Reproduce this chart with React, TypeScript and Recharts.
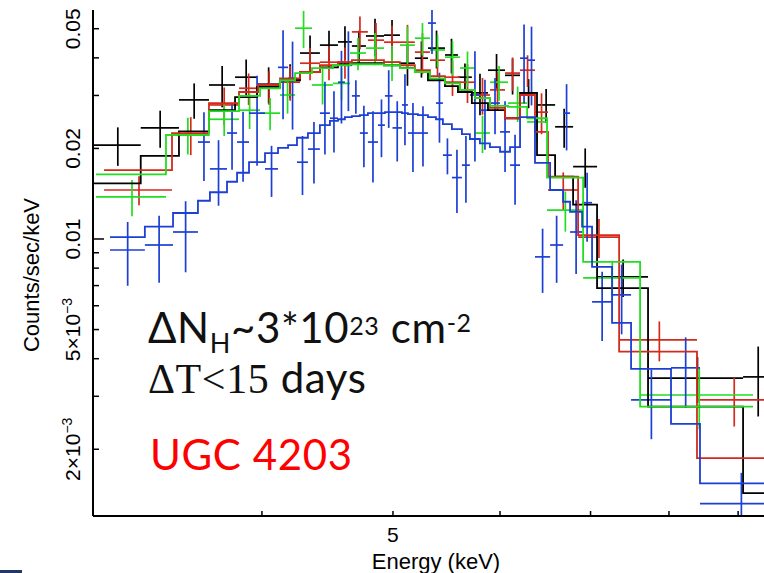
import React from 'react';
import { ComposedChart, Line, Scatter, ErrorBar, XAxis, YAxis } from 'recharts';

// Four observations of UGC 4203, grouped spectra.
// Edges in keV, rates and 1-sigma errors in counts/s/keV, folded model per bin.
const blackEdges = [3.005, 3.254, 3.473, 3.655, 3.821, 3.967, 4.125, 4.268, 4.415, 4.553, 4.662, 4.775, 4.924, 5.06, 5.19, 5.307, 5.463, 5.585, 5.719, 5.878, 6.051, 6.208, 6.39, 6.59, 6.795, 7.078, 7.72, 9.076, 9.55];
const blackRate = [0.0205, 0.0234, 0.029, 0.0325, 0.0345, 0.0327, 0.0337, 0.0415, 0.0441, 0.0452, 0.0438, 0.0473, 0.0476, 0.0384, 0.0399, 0.0431, 0.0409, 0.0345, 0.0306, 0.0364, 0.035, 0.0306, 0.0279, 0.0236, 0.0174, 0.00748, 0.00345, 0.00348];
const blackErr = [0.003, 0.0033, 0.0039, 0.0051, 0.005, 0.0045, 0.0044, 0.006, 0.0051, 0.0058, 0.0054, 0.0067, 0.0058, 0.0061, 0.0055, 0.0062, 0.0054, 0.0038, 0.0048, 0.0048, 0.0048, 0.0034, 0.0036, 0.0035, 0.0026, 0.00107, 0.0006, 0.00091];
const blackModel = [0.0153, 0.0189, 0.0228, 0.0268, 0.0296, 0.032, 0.0337, 0.0359, 0.0372, 0.0381, 0.0384, 0.0384, 0.0378, 0.037, 0.0359, 0.0337, 0.0322, 0.0308, 0.0283, 0.0268, 0.0252, 0.0306, 0.019, 0.0161, 0.013, 0.00687, 0.00277, 0.00143];

const redEdges = [3.057, 3.432, 3.655, 3.847, 3.974, 4.125, 4.268, 4.415, 4.553, 4.662, 4.791, 4.924, 5.06, 5.19, 5.325, 5.463, 5.604, 5.749, 5.898, 6.051, 6.208, 6.368, 6.511, 6.853, 7.349, 8.391, 9.49];
const redRate = [0.01455, 0.0222, 0.0279, 0.0317, 0.032, 0.0332, 0.0384, 0.0387, 0.0387, 0.0488, 0.0458, 0.0451, 0.0451, 0.0418, 0.0393, 0.0345, 0.0332, 0.0301, 0.0313, 0.0356, 0.0364, 0.0264, 0.01455, 0.01015, 0.00462, 0.00292];
const redErr = [0.0016, 0.0032, 0.004, 0.0038, 0.0041, 0.0044, 0.0047, 0.005, 0.0046, 0.0061, 0.0064, 0.006, 0.0064, 0.0065, 0.0045, 0.0046, 0.0049, 0.0042, 0.0045, 0.0045, 0.0044, 0.0041, 0.0021, 0.0015, 0.0007, 0.00054];
const redModel = [0.01695, 0.0225, 0.0283, 0.0308, 0.0325, 0.0342, 0.0359, 0.0378, 0.0387, 0.0393, 0.0393, 0.0387, 0.0378, 0.0364, 0.0348, 0.0332, 0.0313, 0.0294, 0.0273, 0.0252, 0.0301, 0.0227, 0.0161, 0.0103, 0.00422, 0.00187];

const greenEdges = [3.015, 3.397, 3.655, 3.847, 3.987, 4.125, 4.232, 4.356, 4.514, 4.647, 4.775, 4.924, 5.06, 5.19, 5.325, 5.463, 5.604, 5.749, 5.898, 6.082, 6.283, 6.5, 6.912, 7.616, 9.232];
const greenRate = [0.0138, 0.0222, 0.025, 0.0268, 0.0262, 0.0301, 0.0502, 0.0325, 0.0329, 0.0415, 0.0431, 0.0387, 0.0441, 0.0465, 0.0425, 0.0402, 0.037, 0.0225, 0.0332, 0.0283, 0.0245, 0.01248, 0.00743, 0.00303];
const greenErr = [0.0019, 0.0031, 0.003, 0.0036, 0.0032, 0.004, 0.0071, 0.0045, 0.004, 0.0051, 0.0053, 0.0052, 0.0068, 0.0057, 0.0053, 0.0053, 0.005, 0.0032, 0.0044, 0.0038, 0.0033, 0.0019, 0.001, 0.0007];
const greenModel = [0.0164, 0.0222, 0.0266, 0.0299, 0.0317, 0.0337, 0.0356, 0.037, 0.0378, 0.0381, 0.0381, 0.0378, 0.037, 0.0359, 0.0342, 0.0329, 0.0313, 0.0294, 0.0277, 0.0275, 0.0252, 0.016, 0.00839, 0.00277];

const blueEdges = [3.088, 3.277, 3.438, 3.587, 3.661, 3.769, 3.834, 3.913, 4.021, 4.111, 4.182, 4.246, 4.326, 4.415, 4.491, 4.553, 4.607, 4.662, 4.726, 4.791, 4.874, 4.932, 4.996, 5.077, 5.129, 5.217, 5.307, 5.38, 5.444, 5.528, 5.623, 5.7, 5.798, 5.898, 6.0, 6.103, 6.208, 6.293, 6.368, 6.534, 6.68, 6.76, 6.9, 7.018, 7.261, 7.5, 8.028, 8.434, 9.666];
const blueRate = [0.00919, 0.00955, 0.01055, 0.021, 0.0171, 0.0225, 0.021, 0.0262, 0.0171, 0.0372, 0.0342, 0.018, 0.0199, 0.0262, 0.0252, 0.0332, 0.0378, 0.0299, 0.0225, 0.021, 0.0239, 0.0299, 0.0234, 0.0279, 0.0225, 0.0225, 0.0522, 0.0283, 0.019, 0.016, 0.0176, 0.0301, 0.0268, 0.0283, 0.0227, 0.0176, 0.0399, 0.0393, 0.00872, 0.00955, 0.0262, 0.01055, 0.0132, 0.00618, 0.00652, 0.00292, 0.00373, 0.00132];
const blueErr = [0.0022, 0.0024, 0.0028, 0.0054, 0.0042, 0.0055, 0.0055, 0.0087, 0.0033, 0.0122, 0.0111, 0.004, 0.0046, 0.0071, 0.0058, 0.009, 0.0112, 0.0038, 0.0052, 0.0056, 0.0052, 0.0065, 0.0053, 0.0074, 0.0058, 0.0051, 0.011, 0.0074, 0.0026, 0.0038, 0.0044, 0.012, 0.007, 0.006, 0.006, 0.0046, 0.0117, 0.0115, 0.0021, 0.0024, 0.0065, 0.0029, 0.0034, 0.0016, 0.0017, 0.00076, 0.00098, 0.00035];
const blueModel = [0.01015, 0.011, 0.0122, 0.0134, 0.0143, 0.0155, 0.0166, 0.018, 0.0193, 0.0201, 0.0205, 0.0217, 0.0225, 0.0239, 0.0247, 0.025, 0.0254, 0.0256, 0.0258, 0.0262, 0.0262, 0.0264, 0.0264, 0.0262, 0.026, 0.0258, 0.0254, 0.025, 0.0241, 0.0232, 0.0223, 0.0215, 0.0208, 0.0202, 0.0195, 0.0202, 0.0254, 0.0254, 0.0179, 0.01455, 0.0133, 0.0123, 0.011, 0.00808, 0.00526, 0.0037, 0.00243, 0.00154];

const energyDomain = [3, 10];
const energyTicks = [4, 5, 6, 7, 8, 9];
const rateDomain = [0.0012, 0.0577];
const rateTicks = [0.002, 0.003, 0.004, 0.005, 0.006, 0.007, 0.008, 0.009, 0.01, 0.02, 0.03, 0.04, 0.05];
const rateLabels: Record<string, [string, string]> = {
  '0.002': ['2×10', '−3'],
  '0.005': ['5×10', '−3'],
  '0.01': ['0.01', ''],
  '0.02': ['0.02', ''],
  '0.05': ['0.05', ''],
};

const CHART_W = 810;
const CHART_H = 573;
const MARGIN = { top: 10, right: 10, bottom: 0, left: 0 };
const Y_AXIS_W = 93;
const X_AXIS_H = 57;

const AXIS_FONT = '"Liberation Sans", Arial, sans-serif';
const NOTE_FONT = 'Lato, "Open Sans", sans-serif';
const axisLine = { stroke: '#000', strokeWidth: 2 };

const crosses = (edges: number[], rate: number[], err: number[]) =>
  rate.map((v, i) => {
    const lo = edges[i];
    const hi = edges[i + 1];
    const e = (lo + hi) / 2;
    return { e, v, xErr: [e - lo, hi - e], yErr: err[i] };
  });

// stepAfter wants the closing edge repeated with the last bin's value
const steps = (edges: number[], model: number[]) =>
  edges.map((e, i) => ({ e, v: model[Math.min(i, model.length - 1)] }));

const spectra = [
  { id: 'black', color: '#000000', points: crosses(blackEdges, blackRate, blackErr), model: steps(blackEdges, blackModel) },
  { id: 'red', color: '#d42a1c', points: crosses(redEdges, redRate, redErr), model: steps(redEdges, redModel) },
  { id: 'green', color: '#22dd22', points: crosses(greenEdges, greenRate, greenErr), model: steps(greenEdges, greenModel) },
  { id: 'blue', color: '#1c3fd4', points: crosses(blueEdges, blueRate, blueErr), model: steps(blueEdges, blueModel) },
];

const noMarker = () => <g />;

const EnergyTick = ({ x, y, payload, side }: any) => {
  const dir = side === 'top' ? 1 : -1;
  return (
    <g>
      <line x1={x} x2={x} y1={y} y2={y + dir * 5} stroke="#000" strokeWidth={1.5} />
      {side === 'bottom' && payload.value === 5 && (
        <text x={x} y={y + 26} textAnchor="middle" fontSize={21} fontFamily={AXIS_FONT} fill="#000">
          5
        </text>
      )}
    </g>
  );
};

const RateTick = ({ x, y, payload }: any) => {
  const label = rateLabels[String(payload.value)];
  const len = payload.value === 0.01 ? 11 : 6;
  return (
    <g>
      <line x1={x} x2={x + len} y1={y} y2={y} stroke="#000" strokeWidth={1.5} />
      {label && (
        <text
          transform={`translate(${x - 13},${y}) rotate(-90)`}
          textAnchor="middle"
          fontSize={21}
          fontFamily={AXIS_FONT}
          fill="#000"
        >
          {label[0]}
          {label[1] && (
            <tspan dy={-8} fontSize={14}>
              {label[1]}
            </tspan>
          )}
        </text>
      )}
    </g>
  );
};

// error bars are not clipped by the series, so keep them inside the frame
const plotX = MARGIN.left + Y_AXIS_W;
const plotY = MARGIN.top;
const plotW = CHART_W - MARGIN.left - MARGIN.right - Y_AXIS_W;
const plotH = CHART_H - MARGIN.top - MARGIN.bottom - X_AXIS_H;

export default function App() {
  return (
    <div style={{ position: 'absolute', left: 0, top: 0, width: 764, height: 573, overflow: 'hidden', background: '#fff' }}>
      <style>{'.recharts-errorBars { clip-path: url(#spectrum-frame); }'}</style>
      <ComposedChart width={CHART_W} height={CHART_H} margin={MARGIN}>
        <XAxis
          dataKey="e"
          type="number"
          scale="log"
          domain={energyDomain}
          allowDataOverflow
          ticks={energyTicks}
          interval={0}
          tick={(p: any) => <EnergyTick {...p} side="bottom" />}
          tickLine={false}
          tickSize={0}
          tickMargin={0}
          axisLine={axisLine}
          height={X_AXIS_H}
        />
        <XAxis
          xAxisId="top"
          orientation="top"
          dataKey="e"
          type="number"
          scale="log"
          domain={energyDomain}
          allowDataOverflow
          ticks={energyTicks}
          interval={0}
          tick={(p: any) => <EnergyTick {...p} side="top" />}
          tickLine={false}
          tickSize={0}
          tickMargin={0}
          axisLine={axisLine}
          height={0}
        />
        <YAxis
          dataKey="v"
          type="number"
          scale="log"
          domain={rateDomain}
          allowDataOverflow
          ticks={rateTicks}
          interval={0}
          tick={(p: any) => <RateTick {...p} />}
          tickLine={false}
          tickSize={0}
          tickMargin={0}
          axisLine={axisLine}
          width={Y_AXIS_W}
        />
        {spectra.map((s) => (
          <Scatter key={`${s.id}-data`} data={s.points} dataKey="v" shape={noMarker} isAnimationActive={false}>
            <ErrorBar dataKey="xErr" direction="x" width={0} stroke={s.color} strokeWidth={1.7} isAnimationActive={false} />
            <ErrorBar dataKey="yErr" direction="y" width={0} stroke={s.color} strokeWidth={1.7} isAnimationActive={false} />
          </Scatter>
        ))}
        {spectra.map((s) => (
          <Line
            key={`${s.id}-model`}
            data={s.model}
            dataKey="v"
            type="stepAfter"
            stroke={s.color}
            strokeWidth={1.8}
            dot={false}
            activeDot={false}
            isAnimationActive={false}
          />
        ))}
      </ComposedChart>
      <svg width={764} height={573} style={{ position: 'absolute', left: 0, top: 0, pointerEvents: 'none' }}>
        <defs>
          <clipPath id="spectrum-frame">
            <rect x={plotX} y={plotY} width={plotW} height={plotH} />
          </clipPath>
        </defs>
        <text x={39} y={275} transform="rotate(-90 39 275)" textAnchor="middle" fontSize={22} fontFamily={AXIS_FONT} fill="#000">
          Counts/sec/keV
        </text>
        <text x={436} y={569} textAnchor="middle" fontSize={22} fontFamily={AXIS_FONT} fill="#000">
          Energy (keV)
        </text>
        <text x={148} y={343} fontSize={42} fontFamily={NOTE_FONT} fill="#111" letterSpacing={0.6}>
          ΔN
          <tspan fontSize={27} dy={10}>H</tspan>
          <tspan dy={-10}>~3*10</tspan>
          <tspan fontSize={25} dy={-8}>23</tspan>
          <tspan dy={8}> cm</tspan>
          <tspan fontSize={25} dy={-11}>-2</tspan>
        </text>
        <text x={148} y={393} fontSize={42} fill="#111" letterSpacing={0.6}>
          <tspan fontFamily='"Liberation Serif", serif'>ΔT&lt;15</tspan>
          <tspan fontFamily={NOTE_FONT}> days</tspan>
        </text>
        <text x={150} y={470} fontSize={42} fontFamily={NOTE_FONT} fill="#ff0000" letterSpacing={0.6}>
          UGC 4203
        </text>
        <rect x={0} y={570} width={22} height={3} fill="#203864" />
      </svg>
    </div>
  );
}
